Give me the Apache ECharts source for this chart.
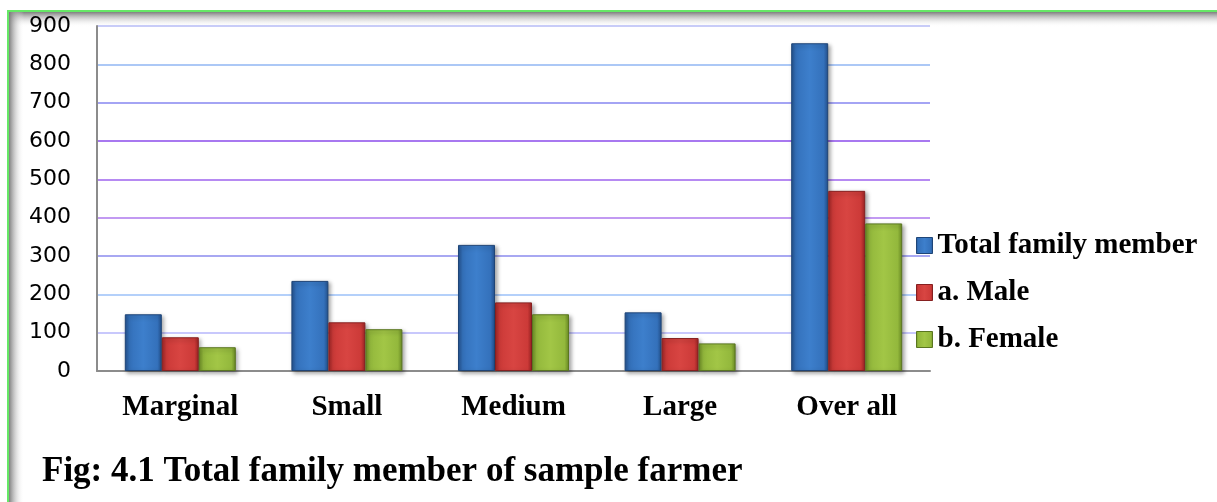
<!DOCTYPE html>
<html>
<head>
<meta charset="utf-8">
<title>Total family member of sample farmer</title>
<script src="https://cdn.jsdelivr.net/npm/echarts@6/dist/echarts.min.js"></script>
<style>
  html, body { margin: 0; padding: 0; background: #ffffff; }
  #chart { width: 1217px; height: 502px; }
</style>
</head>
<body>
<div id="chart"></div>
<script>
// Farm size groups and family members per group
const categories = ['Marginal', 'Small', 'Medium', 'Large', 'Over all'];
const totalMembers = [148, 235, 329, 153, 855];
const maleMembers = [88, 127, 179, 86, 470];
const femaleMembers = [62, 109, 148, 72, 385];
const seriesNames = ['Total family member', 'a. Male', 'b. Female'];
const yTicks = [0, 100, 200, 300, 400, 500, 600, 700, 800, 900];

// Bar fill: darker edges, lighter middle for a bevelled look
function bevel(edge, mid, light) {
  return {
    type: 'linear', x: 0, y: 0, x2: 1, y2: 0,
    colorStops: [
      { offset: 0, color: edge },
      { offset: 0.12, color: mid },
      { offset: 0.5, color: light },
      { offset: 0.88, color: mid },
      { offset: 1, color: edge }
    ]
  };
}
const palette = [
  { fill: bevel('#23508c', '#3471bb', '#3d7fcc'), border: '#1f4577' },
  { fill: bevel('#9c2424', '#cc3a38', '#d84542'), border: '#862020' },
  { fill: bevel('#6a8a24', '#93b83c', '#a2c646'), border: '#5a7620' }
];

// Gridline colours, one per split line from 0 up to 900
const gridColors = ['#c8c8f8', '#c8c8fc', '#b4d0fa', '#a8a8f2', '#c29af2',
                    '#b68af2', '#a878f0', '#a4a4f4', '#acc8f6', '#c8ccf8'];

const serifBold = { fontFamily: '"Liberation Serif", "Times New Roman", serif', fontWeight: 'bold', color: '#000' };

const chart = echarts.init(document.getElementById('chart'), null, { renderer: 'canvas' });

function barSeries(i, values) {
  return {
    name: seriesNames[i],
    type: 'bar',
    data: values,
    barWidth: 37,
    barGap: '0%',
    itemStyle: {
      color: palette[i].fill,
      borderColor: palette[i].border,
      borderWidth: 1,
      shadowColor: 'rgba(0,0,0,0.35)',
      shadowBlur: 4,
      shadowOffsetX: 2,
      shadowOffsetY: 2
    },
    emphasis: { disabled: true }
  };
}

chart.setOption({
  backgroundColor: '#ffffff',
  animation: false,
  title: {
    text: 'Fig: 4.1 Total family member of sample farmer',
    left: 42,
    top: 454,
    padding: 0,
    textStyle: Object.assign({ fontSize: 35 }, serifBold)
  },
  legend: {
    orient: 'vertical',
    left: 916,
    top: 231,
    itemWidth: 16,
    itemHeight: 16,
    itemGap: 18,
    padding: 0,
    data: seriesNames.map((n, i) => ({
      name: n,
      icon: 'rect',
      itemStyle: { color: palette[i].fill, borderColor: palette[i].border, borderWidth: 1 }
    })),
    textStyle: Object.assign({ fontSize: 29, padding: [0, 0, 0, 0] }, serifBold)
  },
  grid: {
    left: 97,
    right: 287,
    top: 26,
    bottom: 131,
    containLabel: false
  },
  xAxis: {
    type: 'category',
    data: categories,
    axisLine: { show: true, lineStyle: { color: '#8c8c8c', width: 2 } },
    axisTick: { show: false },
    axisLabel: Object.assign({ fontSize: 29, margin: 22 }, serifBold),
    splitLine: { show: false }
  },
  yAxis: {
    type: 'value',
    min: yTicks[0],
    max: yTicks[yTicks.length - 1],
    interval: yTicks[1] - yTicks[0],
    axisLine: { show: true, lineStyle: { color: '#8c8c8c', width: 2 } },
    axisTick: { show: false },
    axisLabel: {
      fontSize: 22,
      fontFamily: '"DejaVu Sans", sans-serif',
      color: '#000',
      margin: 26
    },
    splitLine: { show: true, lineStyle: { color: gridColors, width: 2 } }
  },
  series: [
    barSeries(0, totalMembers),
    barSeries(1, maleMembers),
    barSeries(2, femaleMembers)
  ],
  graphic: [
    // inner shadow along the top edge of the frame
    {
      type: 'rect', silent: true, z: -1,
      shape: { x: 9, y: 12, width: 1208, height: 15 },
      style: {
        fill: {
          type: 'linear', x: 0, y: 0, x2: 0, y2: 1,
          colorStops: [
            { offset: 0, color: 'rgba(120,120,120,0.95)' },
            { offset: 1, color: 'rgba(255,255,255,0)' }
          ]
        }
      }
    },
    // inner shadow along the left edge of the frame
    {
      type: 'rect', silent: true, z: -1,
      shape: { x: 9, y: 12, width: 15, height: 490 },
      style: {
        fill: {
          type: 'linear', x: 0, y: 0, x2: 1, y2: 0,
          colorStops: [
            { offset: 0, color: 'rgba(120,120,120,0.95)' },
            { offset: 1, color: 'rgba(255,255,255,0)' }
          ]
        }
      }
    },
    // green frame lines
    {
      type: 'rect', silent: true,
      shape: { x: 7, y: 10, width: 1210, height: 2 },
      style: { fill: '#66e866' }
    },
    {
      type: 'rect', silent: true,
      shape: { x: 7, y: 10, width: 2, height: 492 },
      style: { fill: '#66e866' }
    }
  ]
});
</script>
</body>
</html>
